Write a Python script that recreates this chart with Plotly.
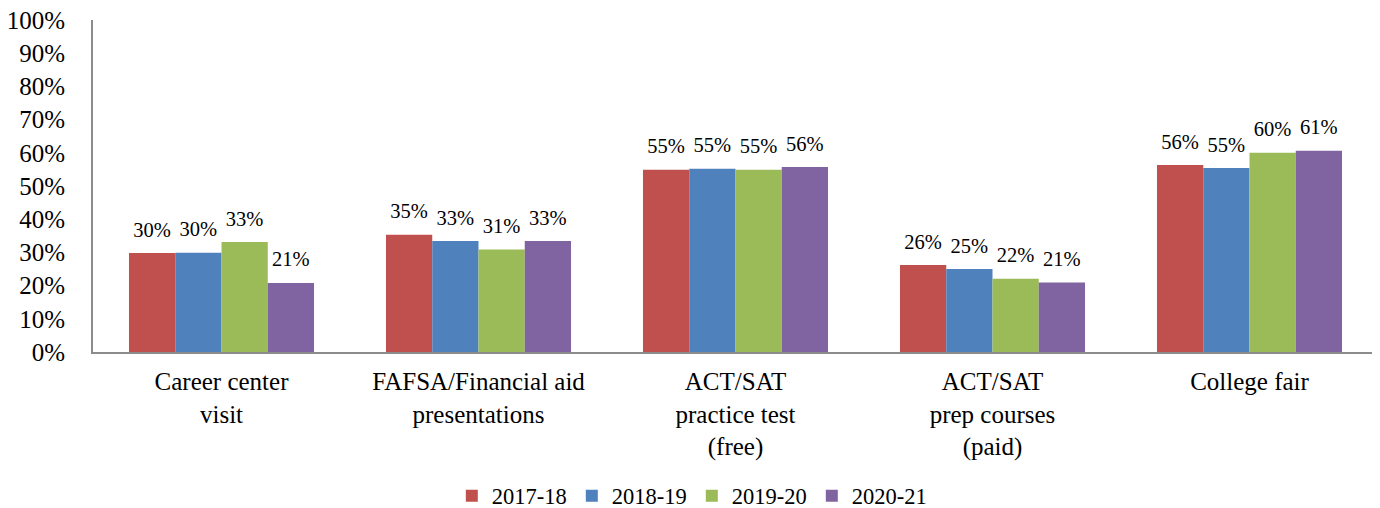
import plotly.graph_objects as go

categories = ["Career center<br>visit", "FAFSA/Financial aid<br>presentations",
              "ACT/SAT<br>practice test<br>(free)", "ACT/SAT<br>prep courses<br>(paid)",
              "College fair"]
series_names = ["2017-18", "2018-19", "2019-20", "2020-21"]
v_2017 = [0.298, 0.353, 0.549, 0.262, 0.563]
v_2018 = [0.299, 0.334, 0.552, 0.250, 0.554]
v_2019 = [0.331, 0.309, 0.549, 0.221, 0.600]
v_2020 = [0.208, 0.334, 0.557, 0.209, 0.606]
colors = ["#C0504D", "#4F81BD", "#9BBB59", "#8064A2"]
ytick_vals = [i / 10 for i in range(11)]
ytick_text = [f"{i*10}%" for i in range(11)]

FONT = "Liberation Serif"
GAP = 0.28
LABEL_LIFT = 0.065

fig = go.Figure()
all_vals = [v_2017, v_2018, v_2019, v_2020]
for name, vals, col in zip(series_names, all_vals, colors):
    fig.add_trace(go.Bar(
        x=categories, y=vals, name=name, offsetgroup=name,
        marker=dict(color=col, line=dict(width=0)),
    ))
for name, vals in zip(series_names, all_vals):
    fig.add_trace(go.Scatter(
        x=categories, y=[v + LABEL_LIFT for v in vals], mode="text",
        offsetgroup=name, showlegend=False, hoverinfo="skip",
        text=[f"{round(v*100)}%" for v in vals], textposition="middle center",
        textfont=dict(family=FONT, size=20.5, color="black"),
        cliponaxis=False,
    ))

# page body has an 8px default margin, so the figure is sized to sit inside the window
fig.update_layout(
    width=1372, height=500,
    margin=dict(l=85, r=2, t=12, b=156),
    paper_bgcolor="white", plot_bgcolor="white",
    barmode="group", bargap=GAP, bargroupgap=0,
    scattermode="group", scattergap=GAP,
    font=dict(family=FONT, size=22, color="black"),
    showlegend=True,
    legend=dict(orientation="h", x=0.466, xanchor="center",
                yref="container", y=0.024, yanchor="middle",
                font=dict(family=FONT, size=22.5, color="black"),
                traceorder="normal"),
)
fig.update_yaxes(range=[0, 1], tickvals=ytick_vals, ticktext=ytick_text,
                 showgrid=False, zeroline=False, showline=True, linecolor="#8c8c8c",
                 linewidth=2, ticks="", ticklabelstandoff=21, automargin=False,
                 ticklabeloverflow="allow",
                 tickfont=dict(family=FONT, size=25, color="black"))
fig.update_xaxes(showline=True, linecolor="#8c8c8c", linewidth=2, ticks="",
                 showgrid=False, ticklabelstandoff=6, automargin=False,
                 ticklabeloverflow="allow",
                 tickfont=dict(family=FONT, size=25, color="black"))

fig.write_html("out.html")
